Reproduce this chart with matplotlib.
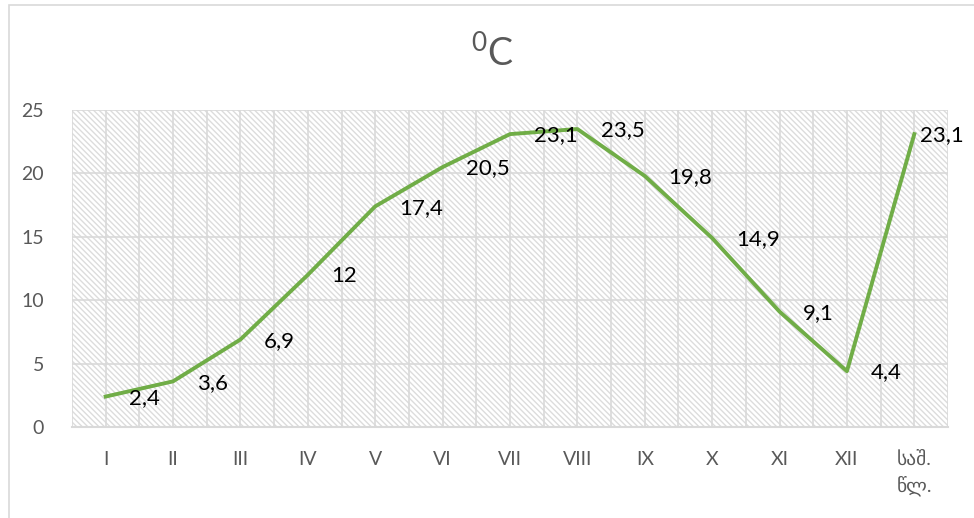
import matplotlib
matplotlib.use('Agg')
import matplotlib.pyplot as plt
from matplotlib.patches import Rectangle

# monthly mean temperature, last point is the yearly mean
months = ['I', 'II', 'III', 'IV', 'V', 'VI', 'VII', 'VIII', 'IX', 'X', 'XI', 'XII', 'საშ.\nწლ.']
temps = [2.4, 3.6, 6.9, 12, 17.4, 20.5, 23.1, 23.5, 19.8, 14.9, 9.1, 4.4, 23.1]
labels = ['2,4', '3,6', '6,9', '12', '17,4', '20,5', '23,1', '23,5', '19,8', '14,9', '9,1', '4,4', '23,1']

plt.rcParams['font.family'] = ['Lato', 'DejaVu Sans']
plt.rcParams['hatch.linewidth'] = 1.0
plt.rcParams['hatch.color'] = '#dcdcdc'

grid_c = '#d9d9d9'
text_c = '#595959'

fig = plt.figure(figsize=(9.74, 5.18), dpi=100)
ax = fig.add_axes([0.0739, 0.1757, 0.8994, 0.6119])

# outer chart border (only top and left visible in the crop)
fig.patches.append(Rectangle((9 / 974, -0.1), 1.2, 1.1 - 5 / 518, transform=fig.transFigure,
                             fill=False, edgecolor=grid_c, lw=1.2))

# hatched plot area
ax.add_patch(Rectangle((0, 0), 1, 1, transform=ax.transAxes, facecolor='white',
                       edgecolor='#dcdcdc', hatch='\\' * 6, lw=0, zorder=0))

x = list(range(len(temps)))
ax.plot(x, temps, color='#70AD47', lw=2.8, solid_joinstyle='round', zorder=3)

for i, (xi, yi, lab) in enumerate(zip(x, temps, labels)):
    dx = 4 if i == len(x) - 1 else 17
    ax.annotate(lab, (xi, yi), xytext=(dx, -1), textcoords='offset points',
                ha='left', va='center', fontsize=16, color='black', zorder=4,
                annotation_clip=False)

ax.set_xlim(-0.5, len(x) - 0.5)
ax.set_ylim(0, 25)
ax.set_yticks(range(0, 26, 5))
ax.set_xticks(x)
ax.set_xticklabels(months)
ax.set_xticks([v - 0.5 for v in range(len(x) + 1)], minor=True)

ax.grid(True, which='both', axis='x', color=grid_c, lw=1.2, zorder=1)
ax.grid(True, which='major', axis='y', color=grid_c, lw=1.2, zorder=1)
ax.set_axisbelow(True)

for s in ['top', 'right', 'left']:
    ax.spines[s].set_visible(False)
ax.spines['bottom'].set_color(grid_c)
ax.spines['bottom'].set_linewidth(1.5)

ax.tick_params(axis='both', which='both', length=0, labelsize=14, colors=text_c)
ax.tick_params(axis='x', pad=17)
ax.tick_params(axis='y', pad=20)
for t in ax.get_xticklabels():
    t.set_verticalalignment('top')
    t.set_linespacing(1.5)

fig.text(0.506, 0.897, r'$\mathregular{^0C}$', ha='center', va='center',
         fontsize=27, color=text_c)

fig.savefig('out.png', dpi=100)
